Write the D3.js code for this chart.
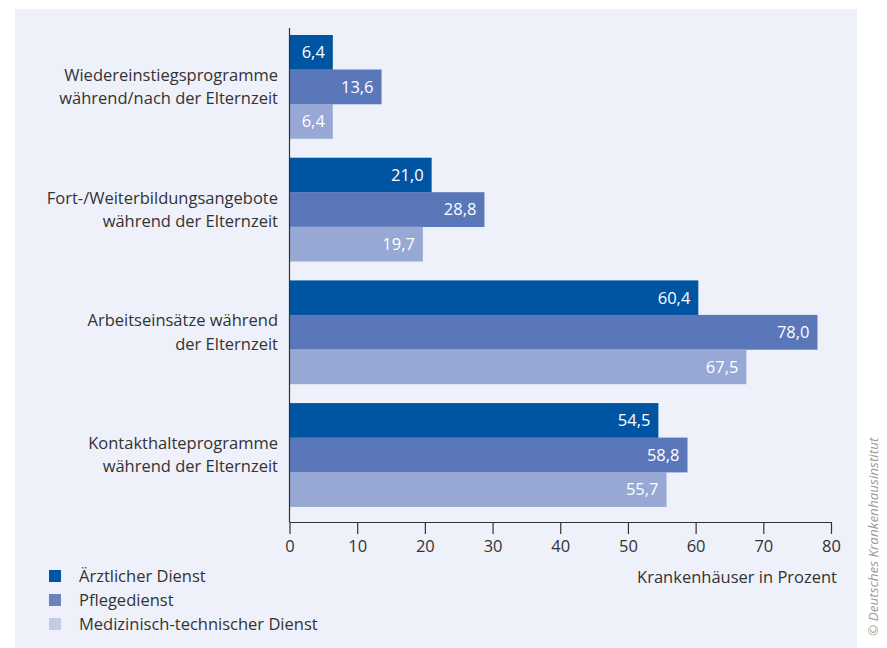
<!DOCTYPE html>
<html>
<head>
<meta charset="utf-8">
<script src="https://cdn.jsdelivr.net/npm/d3@7"></script>
<style>
  html, body { margin: 0; padding: 0; background: #ffffff; }
  svg { display: block; }
  text { font-family: "Open Sans", "Noto Sans", sans-serif; }
</style>
</head>
<body>
<svg id="chart" width="887" height="648"></svg>
<script>
// Maßnahmen zur Vereinbarkeit: Anteil der Krankenhäuser je Dienstart
const categories = [
  ["Wiedereinstiegsprogramme", "während/nach der Elternzeit"],
  ["Fort-/Weiterbildungsangebote", "während der Elternzeit"],
  ["Arbeitseinsätze während", "der Elternzeit"],
  ["Kontakthalteprogramme", "während der Elternzeit"]
];
const seriesNames = ["Ärztlicher Dienst", "Pflegedienst", "Medizinisch-technischer Dienst"];
const aerztlich = [6.4, 21.0, 60.4, 54.5];
const pflege = [13.6, 28.8, 78.0, 58.8];
const medtech = [6.4, 19.7, 67.5, 55.7];
const xTicks = [0, 10, 20, 30, 40, 50, 60, 70, 80];

const barColors = ["#0055a3", "#5a77b9", "#97a8d4"];
const legendColors = ["#0055a3", "#6a83c1", "#c3cbe6"];
const seriesValues = [aerztlich, pflege, medtech];

const textColor = "#333333";
const fontSize = 16.5;

const svg = d3.select("#chart");

// Hintergrundfläche
svg.append("rect")
  .attr("x", 15).attr("y", 9)
  .attr("width", 842).attr("height", 650)
  .attr("fill", "#eef1f9");

const x = d3.scaleLinear().domain([0, 80]).range([289.5, 831]);

// Gruppen und Balken innerhalb der Gruppen
const yGroup = d3.scaleBand()
  .domain(d3.range(categories.length))
  .range([35, 506.6])
  .paddingInner(19.2 / 122.7)
  .paddingOuter(0);
const yInner = d3.scaleBand()
  .domain(d3.range(seriesNames.length))
  .range([0, yGroup.bandwidth()]);

const rows = [];
categories.forEach((c, i) => {
  seriesValues.forEach((vals, s) => {
    rows.push({ cat: i, series: s, value: vals[i] });
  });
});

const bars = svg.append("g");
bars.selectAll("rect")
  .data(rows)
  .join("rect")
  .attr("x", x(0))
  .attr("y", d => yGroup(d.cat) + yInner(d.series))
  .attr("width", d => x(d.value) - x(0))
  .attr("height", yInner.bandwidth() + 0.3)
  .attr("fill", d => barColors[d.series]);

const fmt = v => v.toFixed(1).replace(".", ",");
bars.selectAll("text")
  .data(rows)
  .join("text")
  .attr("x", d => x(d.value) - 8)
  .attr("y", d => yGroup(d.cat) + yInner(d.series) + yInner.bandwidth() / 2)
  .attr("dy", "0.36em")
  .attr("text-anchor", "end")
  .attr("fill", "#ffffff")
  .attr("font-size", 16.5)
  .text(d => fmt(d.value));

// Kategorienbeschriftung
const catLabels = svg.append("g");
categories.forEach((lines, i) => {
  const cy = yGroup(i) + yGroup.bandwidth() / 2;
  const t = catLabels.append("text")
    .attr("x", 278)
    .attr("y", cy)
    .attr("text-anchor", "end")
    .attr("fill", textColor)
    .attr("font-size", fontSize);
  lines.forEach((line, k) => {
    t.append("tspan")
      .attr("x", 278)
      .attr("y", cy + (k - (lines.length - 1) / 2) * 23.3)
      .attr("dy", "0.36em")
      .text(line);
  });
});

// y-Achsenlinie
svg.append("line")
  .attr("x1", x(0)).attr("x2", x(0))
  .attr("y1", 28).attr("y2", 522)
  .attr("stroke", textColor).attr("stroke-width", 1.2);

// x-Achse
const xAxis = svg.append("g")
  .attr("transform", "translate(0,522)")
  .call(d3.axisBottom(x).tickValues(xTicks).tickSize(12).tickSizeOuter(0).tickPadding(6).tickFormat(d3.format("d")));
xAxis.select(".domain").attr("stroke", textColor).attr("stroke-width", 1.2);
xAxis.selectAll(".tick line").attr("stroke", textColor).attr("stroke-width", 1.2);
xAxis.selectAll(".tick text")
  .attr("fill", textColor)
  .attr("font-size", fontSize)
  .attr("font-family", "'Open Sans', 'Noto Sans', sans-serif");

svg.append("text")
  .attr("x", 837).attr("y", 577)
  .attr("dy", "0.36em")
  .attr("text-anchor", "end")
  .attr("fill", textColor)
  .attr("font-size", fontSize)
  .text("Krankenhäuser in Prozent");

// Legende
const legend = svg.append("g");
seriesNames.forEach((name, i) => {
  const cy = 576 + i * 24;
  legend.append("rect")
    .attr("x", 49).attr("y", cy - 6)
    .attr("width", 12).attr("height", 12)
    .attr("fill", legendColors[i]);
  legend.append("text")
    .attr("x", 79).attr("y", cy)
    .attr("dy", "0.36em")
    .attr("fill", textColor)
    .attr("font-size", fontSize)
    .text(name);
});

// Quellenvermerk
svg.append("text")
  .attr("transform", "translate(878,636) rotate(-90)")
  .attr("fill", "#9a9a9a")
  .attr("font-size", 13.5)
  .attr("font-style", "italic")
  .text("© Deutsches Krankenhausinstitut");
</script>
</body>
</html>
